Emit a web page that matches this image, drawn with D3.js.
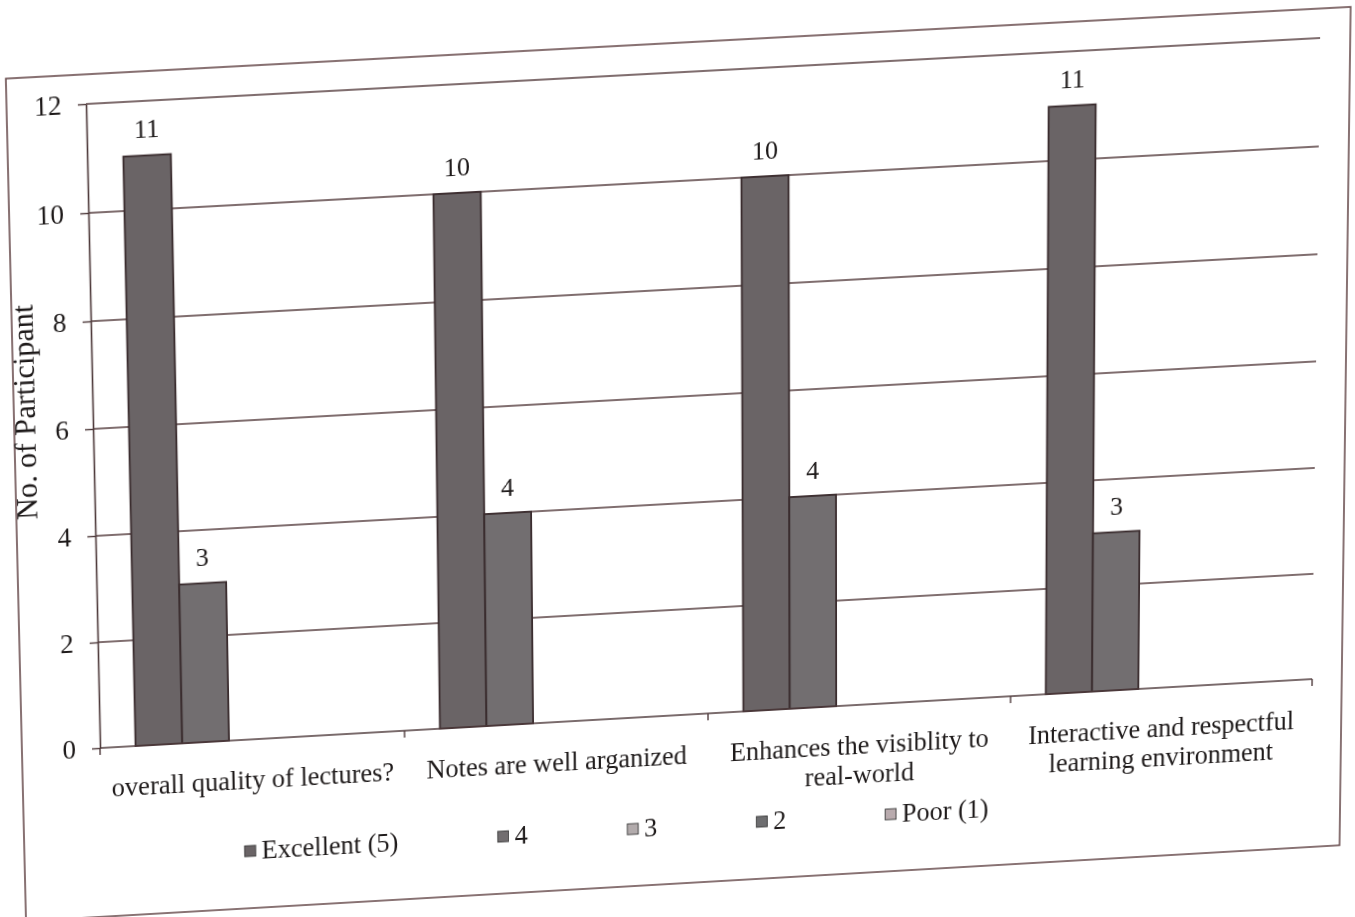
<!DOCTYPE html>
<html lang="en">
<head>
<meta charset="utf-8">
<title>No. of Participant</title>
<script src="https://cdn.jsdelivr.net/npm/d3@7"></script>
<style>
  html, body { margin: 0; padding: 0; background: #fff; overflow: hidden; }
  svg { position: absolute; left: 0; top: 0; transform-origin: 0 0; }
  text { font-family: "Liberation Serif", serif; fill: #1e1a1a; }
</style>
</head>
<body>
<script>
// categories and series
var categories = [
  "overall quality of lectures?",
  "Notes are well arganized",
  "Enhances the visiblity to real-world",
  "Interactive and respectful learning environment"
];
var seriesNames = ["Excellent (5)", "4", "3", "2", "Poor (1)"];
var excellent = [11, 10, 10, 11];
var four      = [3, 4, 4, 3];
var three     = [null, null, null, null];
var two       = [null, null, null, null];
var poor      = [null, null, null, null];
var yTicks = [0, 2, 4, 6, 8, 10, 12];

var seriesValues = [excellent, four, three, two, poor];
var colors = ["#6a6466", "#726e70", "#b2abac", "#6e6e70", "#b9abae"];

// layout (flat, before the photo skew)
var svgW = 1360, svgH = 940;
var x0 = 100, y0 = 110, W = 1220, H = 642;

// photo skew: plot corners -> where they land in the picture
function homography(src, dst) {
  var A = [], b = [];
  for (var i = 0; i < 4; i++) {
    var x = src[i][0], y = src[i][1], X = dst[i][0], Y = dst[i][1];
    A.push([x, y, 1, 0, 0, 0, -x * X, -y * X]); b.push(X);
    A.push([0, 0, 0, x, y, 1, -x * Y, -y * Y]); b.push(Y);
  }
  var n = 8;
  for (var c = 0; c < n; c++) {
    var p = c;
    for (var r = c + 1; r < n; r++) if (Math.abs(A[r][c]) > Math.abs(A[p][c])) p = r;
    var t = A[c]; A[c] = A[p]; A[p] = t;
    t = b[c]; b[c] = b[p]; b[p] = t;
    for (var r2 = c + 1; r2 < n; r2++) {
      var f = A[r2][c] / A[c][c];
      for (var k = c; k < n; k++) A[r2][k] -= f * A[c][k];
      b[r2] -= f * b[c];
    }
  }
  var h = new Array(n);
  for (var r3 = n - 1; r3 >= 0; r3--) {
    var s = b[r3];
    for (var k2 = r3 + 1; k2 < n; k2++) s -= A[r3][k2] * h[k2];
    h[r3] = s / A[r3][r3];
  }
  return h;
}
var hm = homography(
  [[x0, y0], [x0 + W, y0], [x0 + W, y0 + H], [x0, y0 + H]],
  [[86, 104], [1320, 38], [1312, 679], [100, 748]]
);
var m3d = "matrix3d(" + [hm[0], hm[3], 0, hm[6], hm[1], hm[4], 0, hm[7], 0, 0, 1, 0, hm[2], hm[5], 0, 1].join(",") + ")";

var svg = d3.select("body").append("svg")
    .attr("width", svgW)
    .attr("height", svgH)
    .style("transform", m3d);

// chart area border
svg.append("rect")
    .attr("x", 22).attr("y", 81)
    .attr("width", 1328).attr("height", 843)
    .attr("fill", "none")
    .attr("stroke", "#6b4f50")
    .attr("stroke-width", 1.6);

var g = svg.append("g").attr("transform", "translate(" + x0 + "," + y0 + ")");

var xScale = d3.scaleBand().domain(categories).range([0, W]);
var xInner = d3.scaleBand().domain(seriesNames).range([0, xScale.bandwidth()]).paddingOuter(0.76);
var yScale = d3.scaleLinear().domain([0, 12]).range([H, 0]);

// gridlines
g.selectAll("line.grid")
    .data(yTicks.filter(d => d > 0))
    .enter().append("line")
    .attr("class", "grid")
    .attr("x1", 0).attr("x2", W)
    .attr("y1", d => yScale(d)).attr("y2", d => yScale(d))
    .attr("stroke", "#563e3f").attr("stroke-width", 1.5);

// y axis
var yAxis = d3.axisLeft(yScale).tickValues(yTicks).tickSizeInner(8).tickSizeOuter(0).tickPadding(16);
var yG = g.append("g").call(yAxis);
yG.select(".domain").attr("stroke", "#4e3a3b").attr("stroke-width", 1.6);
yG.selectAll(".tick line").attr("stroke", "#4e3a3b").attr("stroke-width", 1.4);
yG.selectAll(".tick text")
    .attr("font-family", "Liberation Serif, serif")
    .attr("font-size", 27)
    .attr("fill", "#1e1a1a");

// bars
var bars = [];
seriesValues.forEach(function(vals, si) {
  vals.forEach(function(v, ci) {
    if (v != null) bars.push({s: seriesNames[si], c: categories[ci], v: v, color: colors[si]});
  });
});

g.selectAll("rect.bar")
    .data(bars)
    .enter().append("rect")
    .attr("class", "bar")
    .attr("x", d => xScale(d.c) + xInner(d.s))
    .attr("width", xInner.bandwidth())
    .attr("y", d => yScale(d.v))
    .attr("height", d => H - yScale(d.v))
    .attr("fill", d => d.color)
    .attr("stroke", "#3a2c2e")
    .attr("stroke-width", 1.8);

g.selectAll("text.val")
    .data(bars)
    .enter().append("text")
    .attr("class", "val")
    .attr("x", d => xScale(d.c) + xInner(d.s) + xInner.bandwidth() / 2)
    .attr("y", d => yScale(d.v) - 17)
    .attr("text-anchor", "middle")
    .attr("font-size", 26)
    .text(d => d.v);

// x axis line + category ticks
g.append("line")
    .attr("x1", 0).attr("x2", W).attr("y1", H).attr("y2", H)
    .attr("stroke", "#4e3a3b").attr("stroke-width", 1.6);
var bounds = categories.map(c => xScale(c)).concat([W]);
g.selectAll("line.ctick")
    .data(bounds)
    .enter().append("line")
    .attr("class", "ctick")
    .attr("x1", d => d).attr("x2", d => d)
    .attr("y1", H).attr("y2", H + 7)
    .attr("stroke", "#4e3a3b").attr("stroke-width", 1.4);

// category labels, wrapped to the band width
var catG = g.selectAll("text.cat")
    .data(categories)
    .enter().append("text")
    .attr("class", "cat")
    .attr("text-anchor", "middle")
    .attr("font-size", 26.5)
    .attr("x", d => xScale(d) + xScale.bandwidth() / 2)
    .attr("y", H + 50);

catG.each(function(d) {
  var el = d3.select(this);
  var words = d.split(" "), lines = [], line = [];
  var probe = el.append("tspan");
  words.forEach(function(w) {
    var tryLine = line.concat([w]).join(" ");
    probe.text(tryLine);
    if (line.length && probe.node().getComputedTextLength() > xScale.bandwidth() - 6) {
      lines.push(line.join(" "));
      line = [w];
    } else {
      line.push(w);
    }
  });
  lines.push(line.join(" "));
  probe.remove();
  var cx = +el.attr("x");
  lines.forEach(function(l, i) {
    el.append("tspan").attr("x", cx).attr("dy", i === 0 ? 0 : 30).text(l);
  });
});

// y axis title
svg.append("text")
    .attr("transform", "translate(33," + (y0 + H / 2 - 20) + ") rotate(-90)")
    .attr("text-anchor", "middle")
    .attr("dominant-baseline", "central")
    .attr("font-size", 30)
    .text("No. of Participant");

// legend
var legendY = y0 + H + 113;
var legend = svg.append("g");
var items = legend.selectAll("g.item")
    .data(seriesNames)
    .enter().append("g")
    .attr("class", "item");
items.append("rect")
    .attr("width", 11).attr("height", 11)
    .attr("y", -5)
    .attr("fill", (d, i) => colors[i])
    .attr("stroke", "#3a3a3a").attr("stroke-width", 0.9);
items.append("text")
    .attr("x", 17)
    .attr("y", 9)
    .attr("font-size", 26.5)
    .text(d => d);

var widths = [];
items.each(function() { widths.push(this.getBBox().width); });
var total = d3.sum(widths) + 100 * (widths.length - 1);
var cx0 = 618 - total / 2;
items.attr("transform", function(d, i) {
  var xx = cx0 + d3.sum(widths.slice(0, i)) + 100 * i;
  return "translate(" + xx + "," + legendY + ")";
});
</script>
</body>
</html>
